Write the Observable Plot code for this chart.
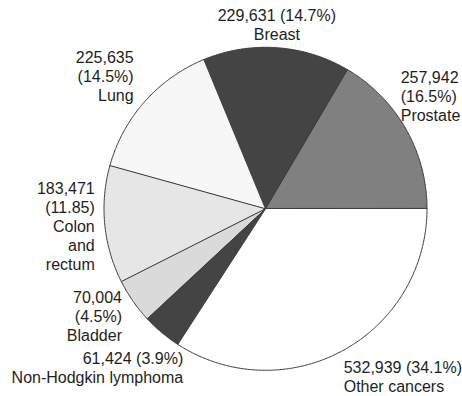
<!DOCTYPE html>
<html>
<head>
<meta charset="utf-8">
<script src="https://cdn.jsdelivr.net/npm/d3@7"></script>
<script src="https://cdn.jsdelivr.net/npm/@observablehq/plot@0.6"></script>
<style>
  body { margin: 0; background: #fff; }
  #chart svg { display: block; }
</style>
</head>
<body>
<div id="chart"></div>
<script>
// New cancer cases by site
const categories = ["Prostate", "Breast", "Lung", "Colon and rectum", "Bladder", "Non-Hodgkin lymphoma", "Other cancers"];
const counts = [257942, 229631, 225635, 183471, 70004, 61424, 532939];
const shareLabels = ["16.5%", "14.7%", "14.5%", "11.85", "4.5%", "3.9%", "34.1%"];
const shades = ["#808080", "#444444", "#f7f7f7", "#e6e6e6", "#dadada", "#444444", "#ffffff"];

// Geometry of the pie in the 462×396 frame
const W = 462, H = 396;
const cx = 265, cy = 208.3, R = 161.5;

// Per-label placement: text anchor, pixel offset from the slice's rim midpoint,
// whether the count and share share a line, and whether the name is wrapped by word
const labelLayout = [
  {anchor: "start",  dx: -5,  dy: -33,  oneLine: false, wrap: false},
  {anchor: "middle", dx: 0,   dy: -23.5, oneLine: true,  wrap: false},
  {anchor: "end",    dx: -11, dy: -26,  oneLine: false, wrap: false},
  {anchor: "end",    dx: -10, dy: 1.5,  oneLine: false, wrap: true},
  {anchor: "end",    dx: -11, dy: 14.5, oneLine: false, wrap: false},
  {anchor: "end",    dx: 21.5, dy: 34.5, oneLine: true,  wrap: false},
  {anchor: "start",  dx: 1,   dy: 25.5, oneLine: true,  wrap: false}
];

// Slice angles: counter-clockwise from 3 o'clock
const total = d3.sum(counts);
let acc = 0;
const slices = categories.map((cat, i) => {
  const a0 = acc / total * 2 * Math.PI;
  acc += counts[i];
  const a1 = acc / total * 2 * Math.PI;
  return {cat, i, a0, a1, mid: (a0 + a1) / 2};
});

// Polygon outline of each wedge (centre + arc samples)
const outline = slices.flatMap(s => {
  const n = Math.max(2, Math.ceil((s.a1 - s.a0) / (Math.PI / 360)));
  const pts = [{cat: s.cat, fill: shades[s.i], x: 0, y: 0}];
  for (let k = 0; k <= n; ++k) {
    const a = s.a0 + (s.a1 - s.a0) * k / n;
    pts.push({cat: s.cat, fill: shades[s.i], x: Math.cos(a), y: Math.sin(a)});
  }
  return pts;
});

const fmt = d3.format(",");
const labels = slices.map(s => {
  const L = labelLayout[s.i];
  const num = fmt(counts[s.i]);
  const share = `(${shareLabels[s.i]})`;
  const name = L.wrap ? s.cat.split(" ").join("\n") : s.cat;
  const head = L.oneLine ? `${num} ${share}` : `${num}\n${share}`;
  return {x: Math.cos(s.mid), y: Math.sin(s.mid), text: `${head}\n${name}`, L};
});

const chart = Plot.plot({
  width: W,
  height: H,
  margin: 0,
  x: {domain: [-1, 1], range: [cx - R, cx + R], axis: null},
  y: {domain: [-1, 1], range: [cy + R, cy - R], axis: null},
  color: {type: "identity"},
  style: {fontFamily: "'Liberation Sans', Arial, sans-serif", background: "#fff", overflow: "visible"},
  marks: [
    Plot.line(outline, {
      x: "x", y: "y", z: "cat", fill: "fill",
      stroke: "#3a3a3a", strokeWidth: 1, strokeLinejoin: "round",
      curve: "linear-closed"
    }),
    ...labels.map(d => Plot.text([d], {
      x: "x", y: "y", text: "text",
      textAnchor: d.L.anchor, dx: d.L.dx, dy: d.L.dy,
      lineAnchor: "middle", lineHeight: 1.18,
      fontSize: 16, fill: "#1e1e1e"
    }))
  ]
});

document.getElementById("chart").append(chart);
</script>
</body>
</html>
